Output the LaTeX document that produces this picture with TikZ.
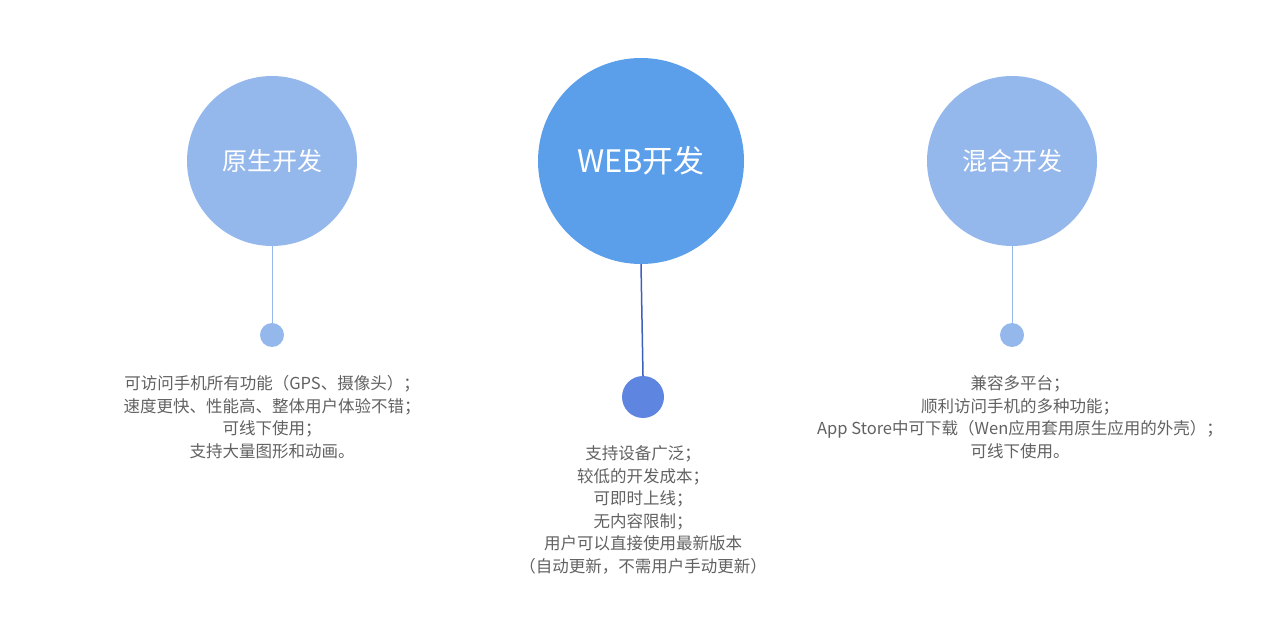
\documentclass[tikz,border=0pt]{standalone}
\usepackage{fontspec}
\setmainfont{Noto Sans CJK SC}
\begin{document}
\begin{tikzpicture}[x=1pt,y=-1pt,
  big/.style={circle,fill=#1,draw=none,text=white,font=\fontsize{25}{30}\selectfont},
  dot/.style={circle,fill=#1,draw=none},
  desc/.style={align=center,text=black!62,font=\fontsize{16.5}{22.6}\selectfont,anchor=north}]
\useasboundingbox (0,0) rectangle (1284,620);
\definecolor{lc}{HTML}{95B8EC}
\definecolor{mc}{HTML}{5B9EE9}
\definecolor{dc}{HTML}{5E86E0}
\definecolor{ln}{HTML}{3F5FBF}
\node[big=lc,minimum size=170pt] (a) at (272,161) {原生开发};
\node[big=mc,minimum size=206pt,font=\fontsize{31}{36}\selectfont] (b) at (641,161) {WEB开发};
\node[big=lc,minimum size=170pt] (c) at (1012,161) {混合开发};
\node[dot=lc,minimum size=24pt] (a2) at (272,335) {};
\node[dot=dc,minimum size=42pt] (b2) at (643,397) {};
\node[dot=lc,minimum size=24pt] (c2) at (1012,335) {};
\draw[lc,line width=0.8pt] (a) -- (a2);
\draw[ln,line width=1.5pt] (b.south) -- (b2.north);
\draw[lc,line width=0.8pt] (c) -- (c2);
\node[desc] (at) at (272,372) {可访问手机所有功能（GPS、摄像头）；\\速度更快、性能高、整体用户体验不错；\\可线下使用；\\支持大量图形和动画。};
\node[desc] (bt) at (643,442) {支持设备广泛；\\较低的开发成本；\\可即时上线；\\无内容限制；\\用户可以直接使用最新版本\\（自动更新，不需用户手动更新）};
\node[desc] (ct) at (1020,372) {兼容多平台；\\顺利访问手机的多种功能；\\App Store中可下载（Wen应用套用原生应用的外壳）；\\可线下使用。};
\end{tikzpicture}
\end{document}
